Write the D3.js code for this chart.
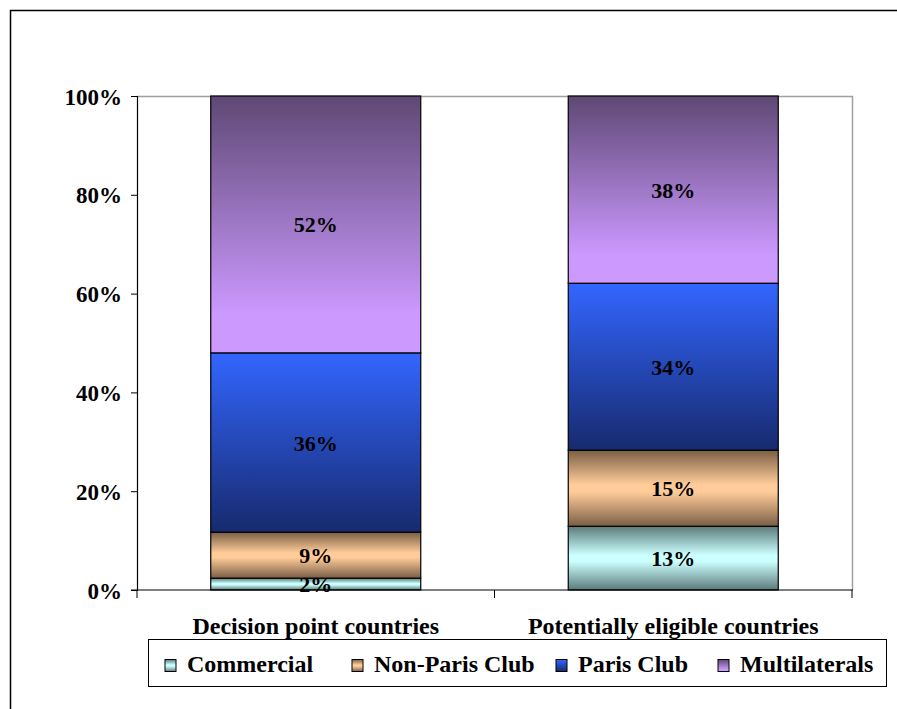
<!DOCTYPE html>
<meta charset="utf-8">
<script src="https://d3js.org/d3.v7.min.js"></script>
<style>
  body { margin: 0; background: #fff; }
</style>
<div id="area"></div>
<script>
var categories = ["Decision point countries", "Potentially eligible countries"];
var seriesNames = ["Commercial", "Non-Paris Club", "Paris Club", "Multilaterals"];
var decisionPoint = [2.4, 9.3, 36.3, 52.0];
var potentiallyEligible = [12.9, 15.4, 33.8, 37.9];
var yTicks = [0, 20, 40, 60, 80, 100];

var W = 897, H = 709;
var plot = {left: 137, right: 852, top: 96, bottom: 590};
var FONT = "'Liberation Serif', 'Times New Roman', serif";

var svg = d3.select("#area").append("svg")
    .attr("width", W).attr("height", H);

// gradients
var defs = svg.append("defs");
var grads = [
  {id: "g0", stops: [[0, "#5c7a7a"], [0.45, "#ccffff"], [0.55, "#ccffff"], [1, "#5c7a7a"]]},
  {id: "g1", stops: [[0, "#7a5e45"], [0.45, "#ffcc99"], [0.55, "#ffcc99"], [1, "#7a5e45"]]},
  {id: "g2", stops: [[0, "#3366ff"], [1, "#172a6e"]]},
  {id: "g3", stops: [[0, "#5e4874"], [0.85, "#cc99ff"], [1, "#cc99ff"]]}
];
grads.forEach(function(g) {
  var lg = defs.append("linearGradient").attr("id", g.id)
    .attr("x1", 0).attr("y1", 0).attr("x2", 0).attr("y2", 1);
  g.stops.forEach(function(s) {
    lg.append("stop").attr("offset", s[0]).attr("stop-color", s[1]);
  });
});

// outer frame
svg.append("path").attr("d", "M10.5," + H + "V10.5H" + W)
  .attr("fill", "none").attr("stroke", "#000").attr("stroke-width", 1.5);

var x = d3.scaleBand().domain(categories).range([plot.left, plot.right]).paddingInner(0).paddingOuter(0);
var y = d3.scaleLinear().domain([0, 100]).range([plot.bottom, plot.top]);
var barW = 210;

// plot area frame (gray top/right)
svg.append("path")
  .attr("d", "M" + plot.left + "," + (plot.top + 0.5) + "H" + (plot.right + 0.5) + "V" + plot.bottom)
  .attr("fill", "none").attr("stroke", "#a0a0a0").attr("stroke-width", 1.5);

// stacked data
var rows = [decisionPoint, potentiallyEligible];
var segs = [];
rows.forEach(function(vals, i) {
  var acc = 0;
  vals.forEach(function(v, j) {
    segs.push({cat: categories[i], s: j, y0: acc, y1: acc + v, v: v});
    acc += v;
  });
});

var bars = svg.append("g");
bars.selectAll("rect").data(segs).enter().append("rect")
  .attr("x", function(d) { return x(d.cat) + (x.bandwidth() - barW) / 2; })
  .attr("y", function(d) { return y(d.y1); })
  .attr("width", barW)
  .attr("height", function(d) { return y(d.y0) - y(d.y1); })
  .attr("fill", function(d) { return "url(#g" + d.s + ")"; })
  .attr("stroke", "#000").attr("stroke-width", 1.2);

bars.selectAll("text").data(segs).enter().append("text")
  .attr("x", function(d) { return x(d.cat) + x.bandwidth() / 2; })
  .attr("y", function(d) { return (y(d.y0) + y(d.y1)) / 2 + 8; })
  .attr("text-anchor", "middle")
  .style("font-family", FONT).style("font-weight", "bold").style("font-size", "22px")
  .text(function(d) { return Math.round(d.v) + "%"; });

// y axis
var yAxis = svg.append("g").attr("transform", "translate(" + plot.left + ",0)")
  .call(d3.axisLeft(y).tickValues(yTicks).tickSize(6).tickPadding(9)
    .tickFormat(function(d) { return d + "%"; }));
yAxis.select(".domain").attr("stroke", "#000").attr("stroke-width", 1.2);
yAxis.selectAll(".tick line").attr("stroke", "#000");
yAxis.selectAll(".tick text")
  .style("font-family", FONT).style("font-weight", "bold").style("font-size", "23px")
  .attr("fill", "#000").attr("dy", "0.35em");

// x axis
var xAxis = svg.append("g").attr("transform", "translate(0," + plot.bottom + ")");
xAxis.append("line").attr("x1", plot.left - 6).attr("x2", plot.right + 1)
  .attr("stroke", "#000").attr("stroke-width", 1.2);
var xb = [plot.left].concat(categories.map(function(c) { return x(c) + x.bandwidth(); }));
xAxis.selectAll("line.t").data(xb).enter().append("line").attr("class", "t")
  .attr("x1", function(d) { return d; }).attr("x2", function(d) { return d; })
  .attr("y1", 0).attr("y2", 8).attr("stroke", "#000");
xAxis.selectAll("text").data(categories).enter().append("text")
  .attr("x", function(d) { return x(d) + x.bandwidth() / 2; })
  .attr("y", 44).attr("text-anchor", "middle")
  .style("font-family", FONT).style("font-weight", "bold").style("font-size", "24px")
  .text(function(d) { return d; });

// legend
var lg = svg.append("g");
lg.append("rect").attr("x", 148.5).attr("y", 639.5).attr("width", 738).attr("height", 47)
  .attr("fill", "#fff").attr("stroke", "#000").attr("stroke-width", 1);
var legX = [165, 352, 556, 718];
var items = lg.selectAll("g.item").data(seriesNames).enter().append("g").attr("class", "item")
  .attr("transform", function(d, i) { return "translate(" + legX[i] + ",659.5)"; });
items.append("rect").attr("width", 11).attr("height", 12)
  .attr("fill", function(d, i) { return "url(#g" + i + ")"; })
  .attr("stroke", "#000").attr("stroke-width", 1);
items.append("text").attr("x", 22).attr("y", 12)
  .style("font-family", FONT).style("font-weight", "bold").style("font-size", "24px")
  .text(function(d) { return d; });
</script>
